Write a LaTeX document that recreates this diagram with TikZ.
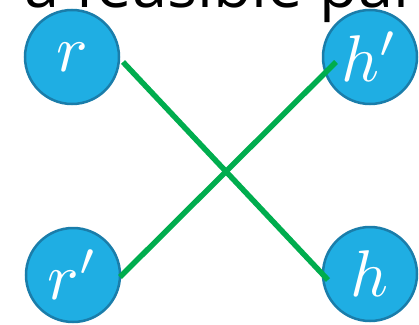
\documentclass[tikz,border=0pt]{standalone}
\usepackage{fontspec}
\usepackage{graphicx}
\setsansfont{Open Sans}
\definecolor{cfill}{HTML}{1FAEE3}
\definecolor{cedge}{HTML}{1A7DAA}
\definecolor{cgreen}{HTML}{00AD4E}
\newcommand{\vlabel}[1]{\scalebox{6.6}{$#1$}}
\begin{document}
\begin{tikzpicture}[x=1pt,y=-1pt,
  vert/.style={circle,fill=cfill,draw=cedge,line width=2.5pt,minimum size=94pt,inner sep=0pt,text=white},
  link/.style={draw=cgreen,line width=5.5pt}]
\useasboundingbox (0,0) rectangle (419,324);
\node[anchor=base west,inner sep=0pt,font=\sffamily\fontsize{63}{63}\selectfont] (title) at (24,7) {a feasible pai};
\node[vert] (r) at (72,57) {\vlabel{r}};
\node[vert] (hp) at (370,57) {\vlabel{h'}};
\node[vert] (rp) at (73,275) {\vlabel{r'}};
\node[vert] (h) at (370,274) {\vlabel{h}};
\coordinate (a1) at (123,62);
\coordinate (a2) at (328,280);
\coordinate (b1) at (120,277);
\coordinate (b2) at (336,62);
\draw[link] (a1) -- (a2);
\draw[link] (b1) -- (b2);
\end{tikzpicture}
\end{document}
